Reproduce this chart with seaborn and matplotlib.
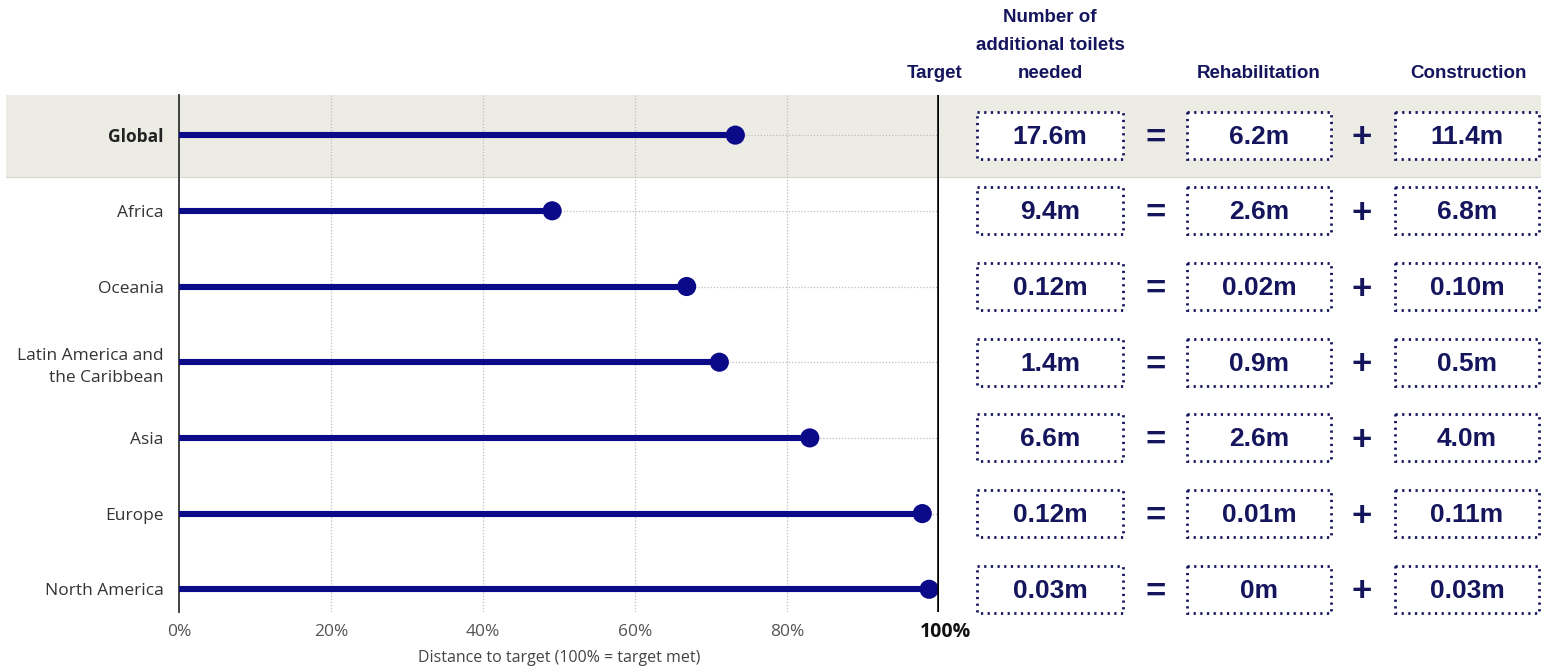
import matplotlib
matplotlib.use("Agg")
import matplotlib.pyplot as plt
import seaborn as sns
import pandas as pd
from matplotlib.patches import Rectangle
from matplotlib.transforms import blended_transform_factory

# ---- data ----
regions = ["Global", "Africa", "Oceania", "Latin America and\nthe Caribbean",
           "Asia", "Europe", "North America"]
distance = [73.2, 49.1, 66.8, 71.1, 83.0, 97.8, 98.7]
total_needed = ["17.6m", "9.4m", "0.12m", "1.4m", "6.6m", "0.12m", "0.03m"]
rehabilitation = ["6.2m", "2.6m", "0.02m", "0.9m", "2.6m", "0.01m", "0m"]
construction = ["11.4m", "6.8m", "0.10m", "0.5m", "4.0m", "0.11m", "0.03m"]
xticks = [0, 20, 40, 60, 80, 100]
xtick_labels = ["0%", "20%", "40%", "60%", "80%", "100%"]
xlabel = "Distance to target (100% = target met)"
target_label = "Target"
col_headers = ["Number of\nadditional toilets\nneeded", "Rehabilitation", "Construction"]

# ---- style ----
sns.set_theme(style="white")
plt.rcParams["font.family"] = ["Open Sans", "DejaVu Sans"]
NARROW = ["Liberation Sans", "DejaVu Sans"]
NAVY = "#0b0b8a"
TXT_NAVY = "#15155e"
BAND = "#ecebe4"

W, H = 1541, 669
fig = plt.figure(figsize=(W / 100, H / 100), dpi=100)
ax = fig.add_axes([179 / W, 57 / H, 760 / W, 517 / H])
ax.set_facecolor("none")

df = pd.DataFrame({"region": regions, "distance": distance,
                   "pos": list(range(len(regions)))})

ax.set_xlim(0, 100)
ax.set_ylim(6.3, -0.53)

# global highlight band
bt = blended_transform_factory(fig.transFigure, ax.transData)
ax.add_patch(Rectangle((6 / W, -0.53), 1 - 6 / W, 1.085, transform=bt,
                       facecolor=BAND, edgecolor="none", zorder=0, clip_on=False))
ax.plot([6 / W, 1], [0.555, 0.555], transform=bt, color="#d8d7d0", lw=0.8,
        zorder=0.5, clip_on=False)

# gridlines
for xv in xticks[1:-1]:
    ax.axvline(xv, color="#bdbdbd", lw=0.9, ls=(0, (1, 1.5)), zorder=1)
ax.hlines(df["pos"], 0, 100, color="#bdbdbd", lw=0.9, ls=(0, (1, 1.5)), zorder=1)

# stems and dots
ax.hlines(df["pos"], 0, df["distance"], color=NAVY, lw=4.4, zorder=3)
sns.scatterplot(data=df, x="distance", y="pos", s=190, color=NAVY,
                edgecolor="none", linewidth=0, zorder=4, ax=ax, legend=False)

# target line and left spine
ax.axvline(100, color="black", lw=2.6, zorder=5)
for s in ["top", "right", "bottom"]:
    ax.spines[s].set_visible(False)
ax.spines["left"].set_color("#333333")
ax.spines["left"].set_linewidth(1.3)

# axes labels
ax.set_xlabel("")
ax.set_ylabel("")
ax.set_xticks(xticks)
ax.set_xticklabels(xtick_labels[:-1] + [""])
ax.set_yticks(df["pos"])
ax.set_yticklabels(regions)
ax.tick_params(axis="both", length=0)
ax.tick_params(axis="x", pad=9, labelsize=12.5, labelcolor="#555555")
ax.tick_params(axis="y", pad=11, labelsize=12.5, labelcolor="#333333")
for lab in ax.get_yticklabels():
    lab.set_horizontalalignment("right")
    if lab.get_text() == "Global":
        lab.set_fontweight("bold")
        lab.set_color("#222222")
    if "\n" in lab.get_text():
        lab.set_linespacing(1.45)

# bold 100% label, a little to the right of the target line
xt = blended_transform_factory(ax.transData, fig.transFigure)
ax.text(xticks[-1] + 0.9, 1 - 632 / H, xtick_labels[-1], transform=xt,
        ha="center", va="center", fontsize=14, fontweight="bold",
        color="#111111", clip_on=False)

fig.text(559 / W, 1 - 658 / H, xlabel, ha="center", va="center",
         fontsize=11.5, color="#444444")

# headers
fig.text(935 / W, 1 - 73 / H, target_label, ha="center", va="center",
         fontsize=13.5, fontweight="bold", color=TXT_NAVY, family=NARROW)
hdr_x = [1050, 1259, 1468]
for hx, h in zip(hdr_x, col_headers):
    lines = h.split("\n")
    n = len(lines)
    for i, line in enumerate(lines):
        yy = 73 - (n - 1 - i) * 27.5
        fig.text(hx / W, 1 - yy / H, line, ha="center", va="center",
                 fontsize=13.5, fontweight="bold", color=TXT_NAVY, family=NARROW)

# boxes
box_cols = [(977, 1123), (1187, 1331), (1395, 1539)]
half = 0.31
for col, values in zip(box_cols, [total_needed, rehabilitation, construction]):
    x0, x1 = col
    for p, v in zip(df["pos"], values):
        ax.add_patch(Rectangle((x0 / W, p - half), (x1 - x0) / W, 2 * half,
                               transform=bt, facecolor="white", edgecolor=TXT_NAVY,
                               lw=2.0, ls=(0, (0.8, 1.6)), zorder=6, clip_on=False))
        ax.text((x0 + x1) / 2 / W, p + 0.02, v, transform=bt, ha="center",
                va="center", fontsize=19, fontweight="bold", color=TXT_NAVY,
                family=NARROW, zorder=7, clip_on=False)

for p in df["pos"]:
    ax.text(1156 / W, p + 0.035, "=", transform=bt, ha="center", va="center",
            fontsize=25, fontweight="bold", color=TXT_NAVY, family=NARROW,
            clip_on=False)
    ax.text(1362 / W, p + 0.035, "+", transform=bt, ha="center", va="center",
            fontsize=25, fontweight="bold", color=TXT_NAVY, family=NARROW,
            clip_on=False)

fig.savefig("out.png", dpi=100)
